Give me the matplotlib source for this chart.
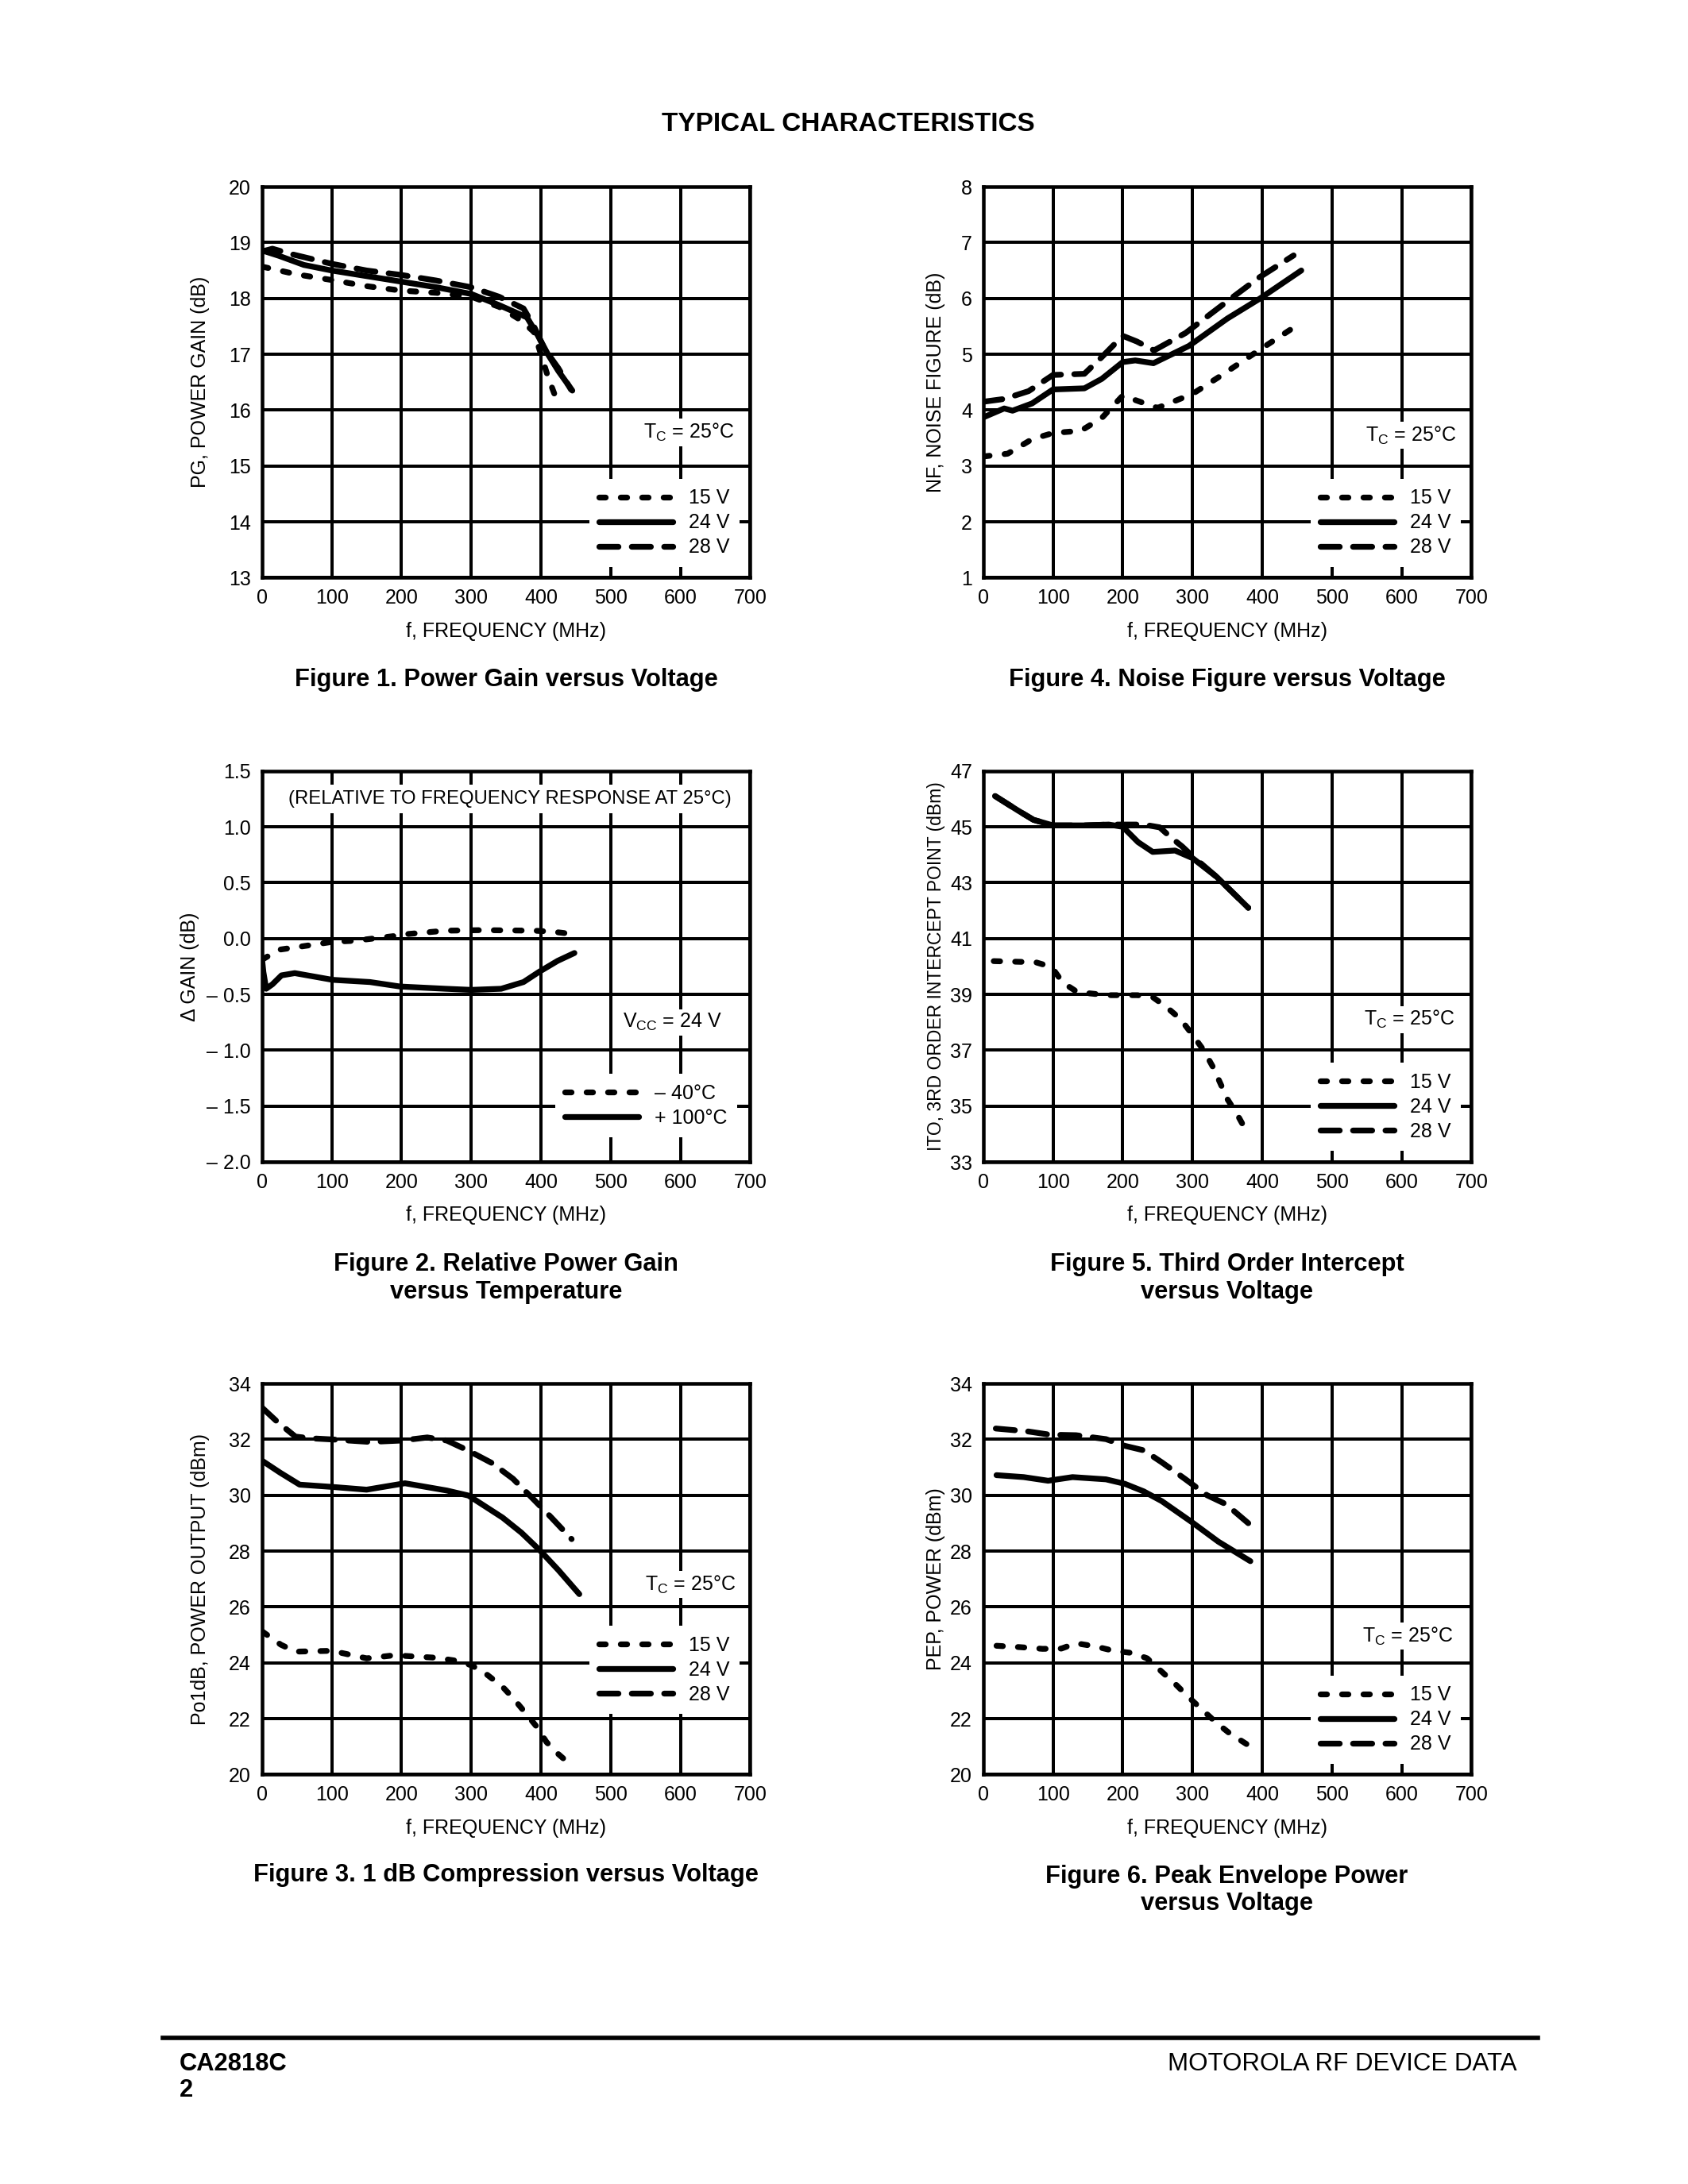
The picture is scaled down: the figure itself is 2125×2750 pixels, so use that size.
import matplotlib.pyplot as plt

plt.rcParams['font.family'] = ['Liberation Sans Narrow', 'Liberation Sans', 'DejaVu Sans']

# ---- data ----
freq_ticks = [0, 100, 200, 300, 400, 500, 600, 700]

# Figure 1, power gain (dB)
pg_f_15 = [0, 50, 100, 150, 200, 250, 300, 340, 370, 390, 400, 410, 425]
pg_15 = [18.57, 18.43, 18.33, 18.22, 18.14, 18.10, 18.03, 17.85, 17.62, 17.4, 17.0, 16.6, 16.1]
pg_f_24 = [0, 25, 60, 100, 150, 200, 250, 300, 340, 380, 395, 410, 425, 445]
pg_24 = [18.86, 18.76, 18.6, 18.5, 18.4, 18.3, 18.2, 18.08, 17.88, 17.66, 17.35, 17.0, 16.7, 16.35]
pg_f_28 = [0, 15, 40, 100, 150, 200, 250, 300, 340, 375, 390, 405, 425, 443]
pg_28 = [18.84, 18.89, 18.8, 18.62, 18.5, 18.42, 18.32, 18.2, 18.03, 17.82, 17.5, 17.1, 16.75, 16.37]

# Figure 4, noise figure (dB)
nf_f_15 = [0, 35, 70, 100, 140, 170, 200, 218, 250, 300, 340, 395, 455]
nf_15 = [3.17, 3.22, 3.48, 3.59, 3.63, 3.86, 4.26, 4.18, 4.04, 4.29, 4.61, 5.07, 5.56]
nf_f_24 = [0, 30, 42, 70, 100, 145, 170, 200, 218, 244, 295, 350, 397, 456]
nf_24 = [3.87, 4.03, 3.99, 4.12, 4.37, 4.39, 4.56, 4.86, 4.89, 4.84, 5.15, 5.64, 6.0, 6.5]
nf_f_28 = [0, 30, 65, 100, 145, 170, 200, 220, 245, 290, 350, 395, 445]
nf_28 = [4.15, 4.2, 4.34, 4.63, 4.65, 4.95, 5.33, 5.23, 5.07, 5.38, 5.95, 6.37, 6.77]

# Figure 2, relative gain (dB)
dg_f_m40 = [0, 25, 58, 101, 133, 160, 187, 209, 263, 316, 391, 418, 445]
dg_m40 = [-0.19, -0.10, -0.07, -0.03, -0.02, 0.0, 0.02, 0.04, 0.07, 0.075, 0.07, 0.06, 0.04]
dg_f_100 = [0, 2, 6, 15, 28, 47, 101, 155, 198, 263, 300, 343, 375, 397, 424, 448]
dg_100 = [-0.18, -0.3, -0.45, -0.41, -0.33, -0.31, -0.37, -0.39, -0.43, -0.45, -0.46, -0.45, -0.39, -0.30, -0.2, -0.13]

# Figure 5, third order intercept (dBm)
ito_f_15 = [15, 75, 98, 114, 135, 178, 221, 243, 262, 283, 300, 316, 330, 350, 365, 378]
ito_15 = [40.19, 40.15, 39.98, 39.42, 39.08, 38.97, 38.97, 38.9, 38.56, 38.11, 37.55, 37.0, 36.37, 35.25, 34.66, 34.07]
ito_f_24 = [17, 50, 72, 100, 145, 180, 200, 222, 243, 275, 300, 335, 380]
ito_24 = [46.1, 45.58, 45.25, 45.05, 45.05, 45.08, 45.0, 44.45, 44.1, 44.15, 43.88, 43.2, 42.1]
ito_f_28 = [17, 50, 72, 100, 145, 180, 200, 230, 253, 270, 285, 300, 335, 380]
ito_28 = [46.1, 45.58, 45.25, 45.05, 45.05, 45.08, 45.08, 45.08, 44.98, 44.6, 44.3, 43.95, 43.2, 42.1]

# Figure 3, 1 dB compression (dBm)
p1_f_15 = [0, 27, 48, 100, 150, 190, 250, 285, 302, 323, 345, 361, 377, 393, 408, 425, 447]
p1_15 = [25.13, 24.65, 24.4, 24.43, 24.16, 24.27, 24.18, 24.05, 23.89, 23.57, 23.14, 22.71, 22.23, 21.74, 21.16, 20.73, 20.25]
p1_f_24 = [0, 26, 54, 100, 150, 205, 265, 296, 345, 372, 398, 425, 455]
p1_24 = [31.24, 30.81, 30.38, 30.3, 30.2, 30.43, 30.17, 29.99, 29.2, 28.66, 28.04, 27.32, 26.46]
p1_f_28 = [0, 22, 48, 70, 100, 155, 200, 237, 265, 295, 330, 360, 388, 415, 444]
p1_28 = [33.14, 32.63, 32.1, 32.04, 32.0, 31.91, 31.96, 32.07, 31.96, 31.61, 31.15, 30.59, 29.89, 29.2, 28.43]

# Figure 6, peak envelope power (dBm)
pep_f_15 = [19, 53, 85, 112, 133, 160, 187, 214, 235, 256, 275, 297, 313, 334, 353, 380]
pep_15 = [24.61, 24.56, 24.5, 24.51, 24.7, 24.59, 24.43, 24.35, 24.16, 23.68, 23.25, 22.71, 22.34, 21.86, 21.48, 21.05]
pep_f_24 = [19, 58, 93, 128, 176, 203, 230, 256, 299, 337, 383]
pep_24 = [30.72, 30.65, 30.52, 30.65, 30.57, 30.41, 30.14, 29.79, 29.04, 28.34, 27.64]
pep_f_28 = [18, 63, 95, 133, 176, 203, 230, 256, 289, 321, 348, 380]
pep_28 = [32.39, 32.29, 32.17, 32.15, 32.01, 31.77, 31.61, 31.18, 30.59, 30.0, 29.68, 29.0]

volt_labels = ['15 V', '24 V', '28 V']
temp_labels = ['\u2013 40\u00b0C', '+ 100\u00b0C']

# line styles
DOT = dict(linestyle=(0, (1.1, 2.6)), dash_capstyle='round')
SOLID = dict(linestyle='-', solid_capstyle='round')
DASH = dict(linestyle=(0, (3.3, 2.3)), dash_capstyle='round')

fig = plt.figure(figsize=(8.5, 11), dpi=250)

W = 0.2892
H = 0.179
LX = [0.1552, 0.5825]
BY = [0.7355, 0.468, 0.1875]
FS = 7.2


def panel(left, bottom, ylim, yticks, ylabels, ylabel, curves, styles, labels,
          leg_anchor, note, note_xy, ylab_x, ylab_fs=FS):
    ax = fig.add_axes([left, bottom, W, H])
    ax.set_xlim(0, 700)
    ax.set_ylim(*ylim)
    ax.set_xticks(freq_ticks)
    ax.set_yticks(yticks)
    ax.set_yticklabels(ylabels)
    ax.tick_params(length=0, pad=4, labelsize=FS)
    ax.grid(True, color='black', linewidth=1.15)
    for s in ax.spines.values():
        s.set_linewidth(1.3)
    handles = []
    for (fx, fy), st, lab in zip(curves, styles, labels):
        ln, = ax.plot(fx, fy, color='black', linewidth=2.1, zorder=3, label=lab, **st)
        handles.append(ln)
    leg = ax.legend(handles=handles, loc='upper left', bbox_to_anchor=leg_anchor,
                    fontsize=FS, frameon=True, fancybox=False, framealpha=1,
                    edgecolor='white', facecolor='white', handlelength=3.7,
                    handletextpad=0.8, labelspacing=0.28, borderpad=0.5,
                    borderaxespad=0)
    leg.get_frame().set_linewidth(0)
    ax.text(note_xy[0], note_xy[1], note, fontsize=FS, ha='center', va='center',
            zorder=4, bbox=dict(facecolor='white', edgecolor='none', pad=1.0))
    ax.set_ylabel(ylabel, fontsize=ylab_fs)
    ax.yaxis.set_label_coords(ylab_x, 0.5)
    ax.set_xlabel('f, FREQUENCY (MHz)', fontsize=FS)
    ax.xaxis.set_label_coords(0.5, -0.112)
    return ax


tc = 'T$_\\mathregular{C}$ = 25\u00b0C'
vstyles = [DOT, SOLID, DASH]
YL_LEFT = -0.107
YL_RIGHT = -0.078

# Figure 1
panel(LX[0], BY[0], (13, 20), range(13, 21), [str(v) for v in range(13, 21)],
      'PG, POWER GAIN (dB)',
      [(pg_f_15, pg_15), (pg_f_24, pg_24), (pg_f_28, pg_28)], vstyles, volt_labels,
      (0.67, 0.253), tc, (612, 15.6), YL_LEFT)

# Figure 4
panel(LX[1], BY[0], (1, 8), range(1, 9), [str(v) for v in range(1, 9)],
      'NF, NOISE FIGURE (dB)',
      [(nf_f_15, nf_15), (nf_f_24, nf_24), (nf_f_28, nf_28)], vstyles, volt_labels,
      (0.67, 0.253), tc, (613, 3.55), YL_RIGHT)

# Figure 2
dg_ticks = [-2.0, -1.5, -1.0, -0.5, 0.0, 0.5, 1.0, 1.5]
dg_ticklabels = ['\u2013 2.0', '\u2013 1.5', '\u2013 1.0', '\u2013 0.5', '0.0', '0.5', '1.0', '1.5']
ax2 = panel(LX[0], BY[1], (-2.0, 1.5), dg_ticks, dg_ticklabels, '\u0394 GAIN (dB)',
            [(dg_f_m40, dg_m40), (dg_f_100, dg_100)], [DOT, SOLID], temp_labels,
            (0.60, 0.225), 'V$_\\mathregular{CC}$ = 24 V', (588, -0.75), -0.128)
ax2.text(355, 1.25, '(RELATIVE TO FREQUENCY RESPONSE AT 25\u00b0C)', fontsize=6.9,
         ha='center', va='center', zorder=4,
         bbox=dict(facecolor='white', edgecolor='none', pad=2.0))

# Figure 5
panel(LX[1], BY[1], (33, 47), range(33, 48, 2), [str(v) for v in range(33, 48, 2)],
      'ITO, 3RD ORDER INTERCEPT POINT (dBm)',
      [(ito_f_15, ito_15), (ito_f_24, ito_24), (ito_f_28, ito_28)], vstyles, volt_labels,
      (0.67, 0.253), tc, (611, 38.1), YL_RIGHT, ylab_fs=6.6)

# Figure 3
panel(LX[0], BY[2], (20, 34), range(20, 35, 2), [str(v) for v in range(20, 35, 2)],
      'Po1dB, POWER OUTPUT (dBm)',
      [(p1_f_15, p1_15), (p1_f_24, p1_24), (p1_f_28, p1_28)], vstyles, volt_labels,
      (0.67, 0.38), tc, (614, 26.8), YL_LEFT)

# Figure 6
panel(LX[1], BY[2], (20, 34), range(20, 35, 2), [str(v) for v in range(20, 35, 2)],
      'PEP, POWER (dBm)',
      [(pep_f_15, pep_15), (pep_f_24, pep_24), (pep_f_28, pep_28)], vstyles, volt_labels,
      (0.67, 0.253), tc, (608, 24.96), YL_RIGHT)

# captions and page furniture
bold = dict(fontsize=8.9, fontweight='bold', family=['Liberation Sans', 'DejaVu Sans'])
fig.text(0.5025, 0.9432, 'TYPICAL CHARACTERISTICS', ha='center', va='center',
         fontsize=9.6, fontweight='bold', family=['Liberation Sans', 'DejaVu Sans'])
fig.text(0.2998, 0.6888, 'Figure 1. Power Gain versus Voltage', ha='center', va='center', **bold)
fig.text(0.7268, 0.6888, 'Figure 4. Noise Figure versus Voltage', ha='center', va='center', **bold)
fig.text(0.2998, 0.4148, 'Figure 2. Relative Power Gain\nversus Temperature', ha='center',
         va='center', linespacing=1.2, **bold)
fig.text(0.7268, 0.4148, 'Figure 5. Third Order Intercept\nversus Voltage', ha='center',
         va='center', linespacing=1.2, **bold)
fig.text(0.2998, 0.1414, 'Figure 3. 1 dB Compression versus Voltage', ha='center', va='center', **bold)
fig.text(0.7268, 0.1345, 'Figure 6. Peak Envelope Power\nversus Voltage', ha='center',
         va='center', linespacing=1.2, **bold)

fig.add_artist(plt.Line2D([0.0964, 0.911], [0.0669, 0.0669], color='black', linewidth=1.6))
fig.text(0.1062, 0.0549, 'CA2818C', ha='left', va='center', **bold)
fig.text(0.1062, 0.0429, '2', ha='left', va='center', **bold)
fig.text(0.8987, 0.0549, 'MOTOROLA RF DEVICE DATA', ha='right', va='center', fontsize=9.0,
         family=['Liberation Sans', 'DejaVu Sans'])

fig.savefig('out.png', dpi=250)
